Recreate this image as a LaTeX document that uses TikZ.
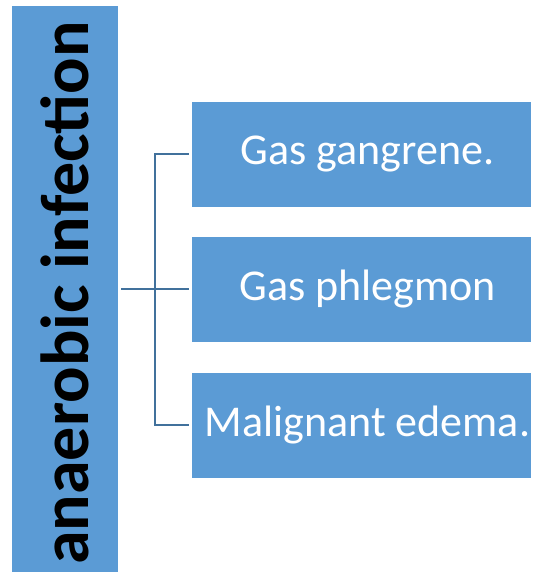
\documentclass[tikz,border=0pt]{standalone}
\usepackage{fontspec}
\setmainfont{Carlito}
\begin{document}
\begin{tikzpicture}[x=0.75pt,y=-0.75pt,
  bluebox/.style={fill=boxblue,draw=none,inner sep=0pt},
  itembox/.style={bluebox,minimum width=339*0.75pt,minimum height=105*0.75pt},
  itemtext/.style={text=white,xshift=4.5pt,font=\fontsize{33}{36}\selectfont},
  link/.style={draw=linkblue,line width=1.3pt}]
\definecolor{boxblue}{HTML}{5B9BD5}
\definecolor{linkblue}{HTML}{41719C}
\useasboundingbox (0,0) rectangle (534,572);
% vertical title bar
\fill[boxblue] (12,6) rectangle (118,572);
\node[anchor=base,rotate=90,inner sep=0pt,font=\bfseries\fontsize{51}{56}\selectfont]
  (title) at (88,293) {anaerobic infection};
\coordinate (barR) at (118,289);
% item boxes
\node[itembox,label={[itemtext]center:Gas gangrene.}] (b1) at (361.5,154) {};
\node[itembox,label={[itemtext]center:Gas phlegmon}] (b2) at (361.5,289) {};
\node[itembox,label={[itemtext]center:Malignant edema.}] (b3) at (361.5,425) {};
% bracket connectors
\coordinate (j) at (155,289);
\draw[link] (barR) ++(3,0) -- (j);
\draw[link] (b1.west) ++(-3,0) -| (j) |- ([xshift=-3*0.75pt]b3.west);
\draw[link] (j) -- ([xshift=-3*0.75pt]b2.west);
\end{tikzpicture}
\end{document}
